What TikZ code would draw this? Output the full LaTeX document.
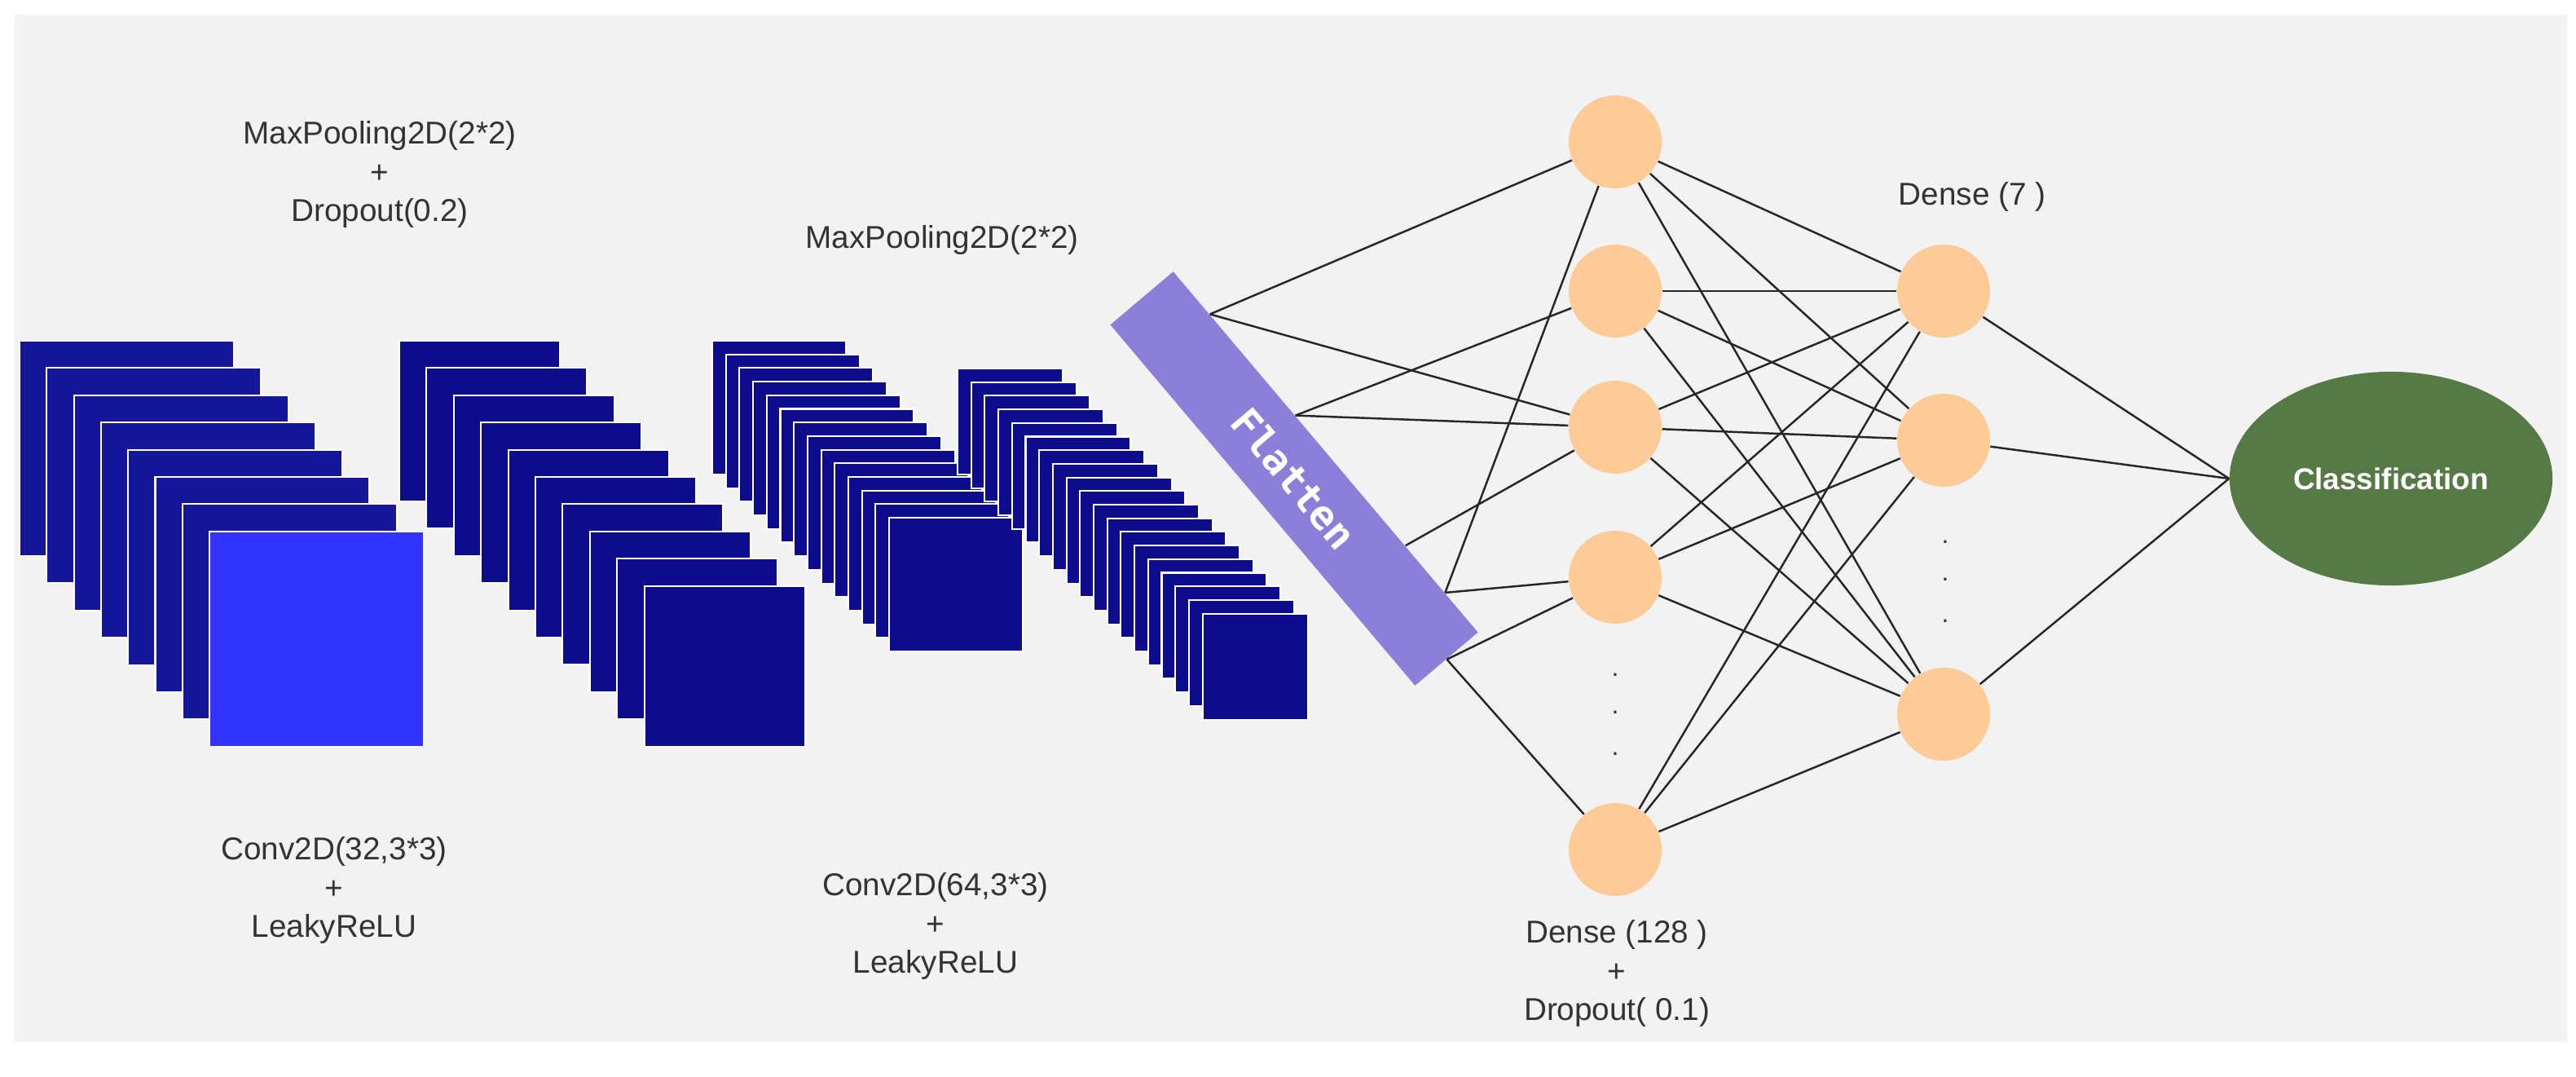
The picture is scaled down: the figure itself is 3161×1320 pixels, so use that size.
\documentclass[tikz,border=0pt]{standalone}
\usepackage{fontspec}
\setmainfont{Liberation Sans}
\newfontfamily\flatfont{DejaVu Sans Mono}
\usetikzlibrary{shapes.geometric,calc}
\definecolor{PaperGray}{HTML}{F2F2F2}
\definecolor{MapBlue}{HTML}{0C0C8C}
\definecolor{BackBlue}{HTML}{16169A}
\definecolor{FrontBlue}{HTML}{3333FF}
\definecolor{FlatPurple}{HTML}{8B7FD9}
\definecolor{NeuronPeach}{HTML}{FDCB97}
\definecolor{ClassGreen}{HTML}{557A46}
\definecolor{LabelGray}{HTML}{333333}
\tikzstyle{every node}=[font=\fontsize{11}{13.4}\selectfont]
\tikzset{MapStyle/.style = {
			      draw           = white,
			      line width     = 0.6pt,
			      fill           = MapBlue}
						}
\tikzset{NeuronStyle/.style = {
						shape          = circle,
			      fill           = NeuronPeach,
			      inner sep      = 0pt,
			      minimum size   = 11.4mm}
						}
\tikzset{EdgeStyle/.style   = {line width=0.7pt,draw=black!85}}
\tikzset{LabelStyle/.style =   {
				  text           = LabelGray,
				  align          = center,
				  inner sep      = 0pt}
					}
\tikzset{DotStyle/.style = {text=LabelGray,inner sep=0pt,font=\small}}

\begin{document}
\begin{tikzpicture}[x=0.01cm,y=-0.01cm]
	\useasboundingbox (0,0) rectangle (3161,1320);
	\fill[PaperGray] (18,18) rectangle (3150,1278);

	% feature maps
	\foreach \i in {0,...,6}
		\draw[MapStyle,fill=BackBlue] ({24+33.3*\i},{418+33.4*\i}) rectangle +(263,264);
	\draw[MapStyle,fill=FrontBlue] (257,652) rectangle +(263,264);
	\foreach \i in {0,...,9}
		\draw[MapStyle] ({490+33.4*\i},{418+33.4*\i}) rectangle +(197,197);
	\foreach \i in {0,...,13}
		\draw[MapStyle] ({874+16.7*\i},{418+16.7*\i}) rectangle +(164,164);
	\foreach \i in {0,...,18}
		\draw[MapStyle] ({1175+16.7*\i},{452+16.7*\i}) rectangle +(129,130);

	\draw (466,214) node[LabelStyle] (pool1) {MaxPooling2D(2*2)\\+\\Dropout(0.2)};
	\draw (1156,294) node[LabelStyle] (pool2) {MaxPooling2D(2*2)};
	\draw (410,1092) node[LabelStyle] (conv1) {Conv2D(32,3*3)\\+\\LeakyReLU};
	\draw (1148,1136) node[LabelStyle] (conv2) {Conv2D(64,3*3)\\+\\LeakyReLU};

	% flatten bar
	\draw (1588,587) node[fill=FlatPurple,rotate=-49.8,minimum width=5.79cm,minimum height=1.01cm,
		inner sep=0pt,text=white,font=\flatfont\bfseries\fontsize{14}{14}\selectfont] (F) {Flatten};
	\coordinate (f1) at ($(F.north west)!0.12!(F.north east)$);
	\coordinate (f2) at ($(F.north west)!0.40!(F.north east)$);
	\coordinate (f3) at ($(F.north west)!0.76!(F.north east)$);
	\coordinate (f4) at ($(F.north west)!0.89!(F.north east)$);
	\coordinate (f5) at (F.east);

	% dense layers
	\draw (1982,174) node[NeuronStyle] (h1) {};
	\draw (1982,357) node[NeuronStyle] (h2) {};
	\draw (1982,524) node[NeuronStyle] (h3) {};
	\draw (1982,708) node[NeuronStyle] (h4) {};
	\draw (1982,1042) node[NeuronStyle] (h5) {};
	\draw (2385,357) node[NeuronStyle] (o1) {};
	\draw (2385,540) node[NeuronStyle] (o2) {};
	\draw (2385,876) node[NeuronStyle] (o3) {};
	\draw (2934,587) node[ellipse,fill=ClassGreen,minimum width=3.96cm,minimum height=2.62cm,
		text=white,font=\bfseries\fontsize{10.5}{12}\selectfont] (C) {Classification};

	\foreach \y/\n in {828/hd1,874/hd2,925/hd3} \draw (1982,\y) node[DotStyle] (\n) {.};
	\foreach \y/\n in {665/od1,711/od2,762/od3} \draw (2387,\y) node[DotStyle] (\n) {.};

	\draw (2420,241) node[LabelStyle] (dense7) {Dense (7 )};
	\draw (1984,1194) node[LabelStyle] (dense128) {Dense (128 )\\+\\Dropout( 0.1)};

	% connections
	\foreach \a/\b in {f1/h1,f1/h3,f2/h2,f2/h3,f3/h3,f4/h1,f4/h4,f5/h4,f5/h5}
		\draw[EdgeStyle] (\a) -- (\b);
	\foreach \a in {h1,h2,h3,h4,h5}
		\foreach \b in {o1,o2,o3}
			\draw[EdgeStyle] (\a) -- (\b);
	\foreach \a in {o1,o2,o3}
		\draw[EdgeStyle] (\a) -- (C.west);
\end{tikzpicture}
\end{document}
